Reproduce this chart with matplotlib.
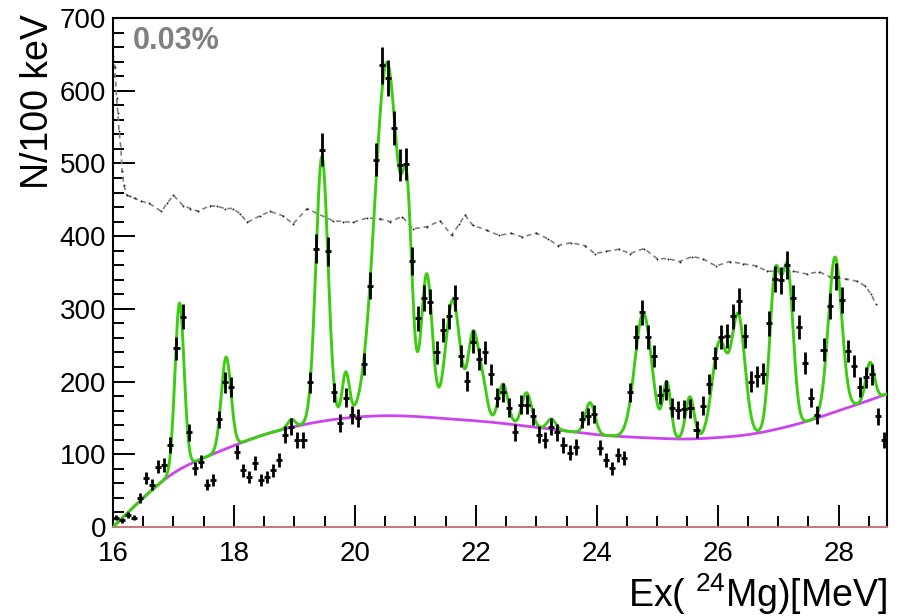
import numpy as np
import matplotlib
matplotlib.use("Agg")
import matplotlib.pyplot as plt
from matplotlib.ticker import MultipleLocator, FixedLocator

plt.rcParams['font.family'] = ['Liberation Sans', 'DejaVu Sans']
plt.rcParams['mathtext.fontset'] = 'custom'
plt.rcParams['mathtext.rm'] = 'Liberation Sans'
plt.rcParams['mathtext.it'] = 'Liberation Sans'

# ---- measured spectrum: 100 keV bins, 16.0 - 28.8 MeV ----
bin_start = 16.0
bin_width = 0.1
counts = [
    13, 9, 16, 13, 40, 68, 58, 83, 85, 113,          # 16.0 - 17.0
    246, 289, 130, 81, 90, 58, 65, 148, 199, 193,    # 17.0 - 18.0
    103, 78, 69, 88, 65, 69, 78, 92, 127, 138,       # 18.0 - 19.0
    120, 120, 199, 383, 519, 379, 185, 143, 178, 154,  # 19.0 - 20.0
    150, 224, 332, 505, 635, 618, 549, 498, 499, 366,  # 20.0 - 21.0
    287, 315, 310, 240, 271, 290, 315, 235, 201, 255,  # 21.0 - 22.0
    231, 240, 210, 178, 185, 164, 130, 168, 168, 152,  # 22.0 - 23.0
    127, 120, 138, 130, 113, 102, 110, 148, 152, 155,  # 23.0 - 24.0
    109, 92, 81, 99, 95, 185, 261, 295, 261, 235,      # 24.0 - 25.0
    182, 189, 164, 161, 162, 163, 134, 167, 197, 232,  # 25.0 - 26.0
    261, 263, 290, 311, 263, 200, 207, 211, 280, 341,  # 26.0 - 27.0
    339, 360, 315, 275, 225, 178, 154, 244, 304, 344,  # 27.0 - 28.0
    312, 242, 221, 192, 206, 210, 152, 120,            # 28.0 - 28.8
]

# ---- fit components ----
bg_energy = [16.0, 16.5, 17.0, 17.5, 18.0, 18.5, 19.0, 19.5, 20.0, 20.5,
             21.0, 21.5, 22.0, 22.5, 23.0, 23.5, 24.0, 24.5, 25.0, 25.5,
             26.0, 26.5, 27.0, 27.5, 28.0, 28.5, 28.8]
bg_counts = [0, 40, 74, 95, 112, 127, 138, 146, 151, 153,
             152, 149, 146, 142, 137, 132, 127, 124, 122, 121,
             123, 127, 135, 146, 160, 174, 183]

peak_centers = [17.10, 17.87, 18.95, 19.455, 19.85, 20.53, 20.87, 21.19,
                21.62, 21.95, 22.10, 22.45, 22.84, 23.25, 23.89, 24.77,
                25.16, 25.54, 26.03, 26.34, 26.95, 27.16, 27.94, 28.52]
peak_heights = [229, 126, 11, 364, 62, 486, 210, 195,
                164, 110, 55, 54, 46, 14, 43, 171,
                75, 58, 130, 164, 208, 208, 213, 52]
peak_sigmas = [0.075, 0.08, 0.06, 0.10, 0.06, 0.20, 0.08, 0.09,
               0.12, 0.08, 0.08, 0.08, 0.08, 0.07, 0.08, 0.14,
               0.065, 0.07, 0.12, 0.11, 0.09, 0.09, 0.11, 0.07]

# ---- efficiency-like reference curve (scaled) ----
ref_energy = [16.00, 16.03, 16.06, 16.08, 16.10, 16.13, 16.15, 16.18, 16.23, 16.28,
              16.36, 16.47, 16.60, 16.80, 16.89, 17.00, 17.16, 17.28, 17.41, 17.60,
              17.72, 17.85, 17.98, 18.10, 18.22, 18.43, 18.60, 18.81, 18.98, 19.21,
              19.38, 19.64, 19.81, 19.97, 20.20, 20.41, 20.58, 20.78, 20.96, 21.19,
              21.41, 21.60, 21.73, 21.82, 21.95, 22.18, 22.39, 22.58, 22.77, 23.00,
              23.20, 23.36, 23.57, 23.80, 23.97, 24.15, 24.37, 24.55, 24.78, 25.00,
              25.18, 25.37, 25.58, 25.75, 25.97, 26.20, 26.42, 26.64, 26.81, 27.03,
              27.24, 27.47, 27.68, 27.85, 28.13, 28.30, 28.43, 28.54, 28.61]
ref_values = [648, 632, 590, 570, 545, 521, 489, 470, 456, 455,
              452, 448, 445, 434, 445, 456, 442, 438, 434, 442,
              441, 438, 438, 431, 419, 428, 434, 428, 417, 438,
              431, 421, 420, 419, 425, 424, 420, 427, 410, 413,
              421, 401, 417, 429, 415, 408, 401, 404, 399, 404,
              396, 387, 391, 387, 376, 379, 382, 376, 383, 369,
              369, 365, 372, 369, 359, 365, 362, 359, 352, 351,
              352, 348, 351, 344, 341, 338, 332, 320, 307]

x_label = r"Ex( $^{24}$Mg)[MeV]"
y_label = "N/100 keV"
annotation = "0.03%"


def natural_spline(xk, yk, x):
    xk = np.asarray(xk, float)
    yk = np.asarray(yk, float)
    n = len(xk)
    h = np.diff(xk)
    A = np.zeros((n, n))
    r = np.zeros(n)
    A[0, 0] = A[-1, -1] = 1.0
    for i in range(1, n - 1):
        A[i, i - 1] = h[i - 1]
        A[i, i] = 2 * (h[i - 1] + h[i])
        A[i, i + 1] = h[i]
        r[i] = 3 * ((yk[i + 1] - yk[i]) / h[i] - (yk[i] - yk[i - 1]) / h[i - 1])
    c = np.linalg.solve(A, r)
    b = (yk[1:] - yk[:-1]) / h - h * (2 * c[:-1] + c[1:]) / 3
    d = (c[1:] - c[:-1]) / (3 * h)
    idx = np.clip(np.searchsorted(xk, x) - 1, 0, n - 2)
    dx = x - xk[idx]
    return yk[idx] + b[idx] * dx + c[idx] * dx ** 2 + d[idx] * dx ** 3


counts_arr = np.array(counts, float)
centers = bin_start + bin_width * (np.arange(len(counts)) + 0.5)
x_max = bin_start + bin_width * len(counts)

xs = np.linspace(bin_start, x_max, 2000)
background = natural_spline(bg_energy, bg_counts, xs)
total = background.copy()
for c0, a0, s0 in zip(peak_centers, peak_heights, peak_sigmas):
    total += a0 * np.exp(-0.5 * ((xs - c0) / s0) ** 2)

W, H = 908, 616
fig = plt.figure(figsize=(W / 100, H / 100), dpi=100)
L, R, T, B = 113, 887, 18, 527
ax = fig.add_axes([L / W, 1 - B / H, (R - L) / W, (B - T) / H])

ax.plot(ref_energy, ref_values, color='#808080', lw=1.2, ls=(0, (3, 2.2)),
        marker='.', ms=2.8, mfc='#222222', mec='none', zorder=2)
ax.plot(xs, background, color='#cc44ee', lw=2.0, zorder=3)
ax.plot(xs, total, color='#3ccc10', lw=2.1, zorder=4)
ax.errorbar(centers, counts_arr, xerr=bin_width / 2, yerr=np.sqrt(counts_arr),
            fmt='none', ecolor='black', elinewidth=2.0, capsize=0, zorder=5)

ax.set_xlim(bin_start, x_max)
ax.set_ylim(0, 700)
ax.xaxis.set_major_locator(FixedLocator([16, 18, 20, 22, 24, 26, 28]))
ax.xaxis.set_minor_locator(MultipleLocator(0.5))
ax.yaxis.set_major_locator(MultipleLocator(100))
ax.yaxis.set_minor_locator(MultipleLocator(20))
ax.tick_params(which='both', direction='in', top=False, right=False,
               width=1.4, labelsize=20)
ax.tick_params(which='major', length=16)
ax.tick_params(which='minor', length=8)
ax.tick_params(axis='x', pad=10)
ax.tick_params(axis='y', pad=5)
for sp in ax.spines.values():
    sp.set_linewidth(1.5)
ax.spines['bottom'].set_color('#c87a7a')

ax.text(0.025, 0.985, annotation, transform=ax.transAxes, ha='left', va='top',
        fontsize=22, fontweight='bold', color='#808080')

fig.text(38 / W, 1 - 14 / H, y_label, rotation=90, ha='center', va='top',
         fontsize=27)
fig.text(R / W, 1 - 594 / H, x_label, ha='right', va='center', fontsize=27)

fig.savefig("out.png", dpi=100)
